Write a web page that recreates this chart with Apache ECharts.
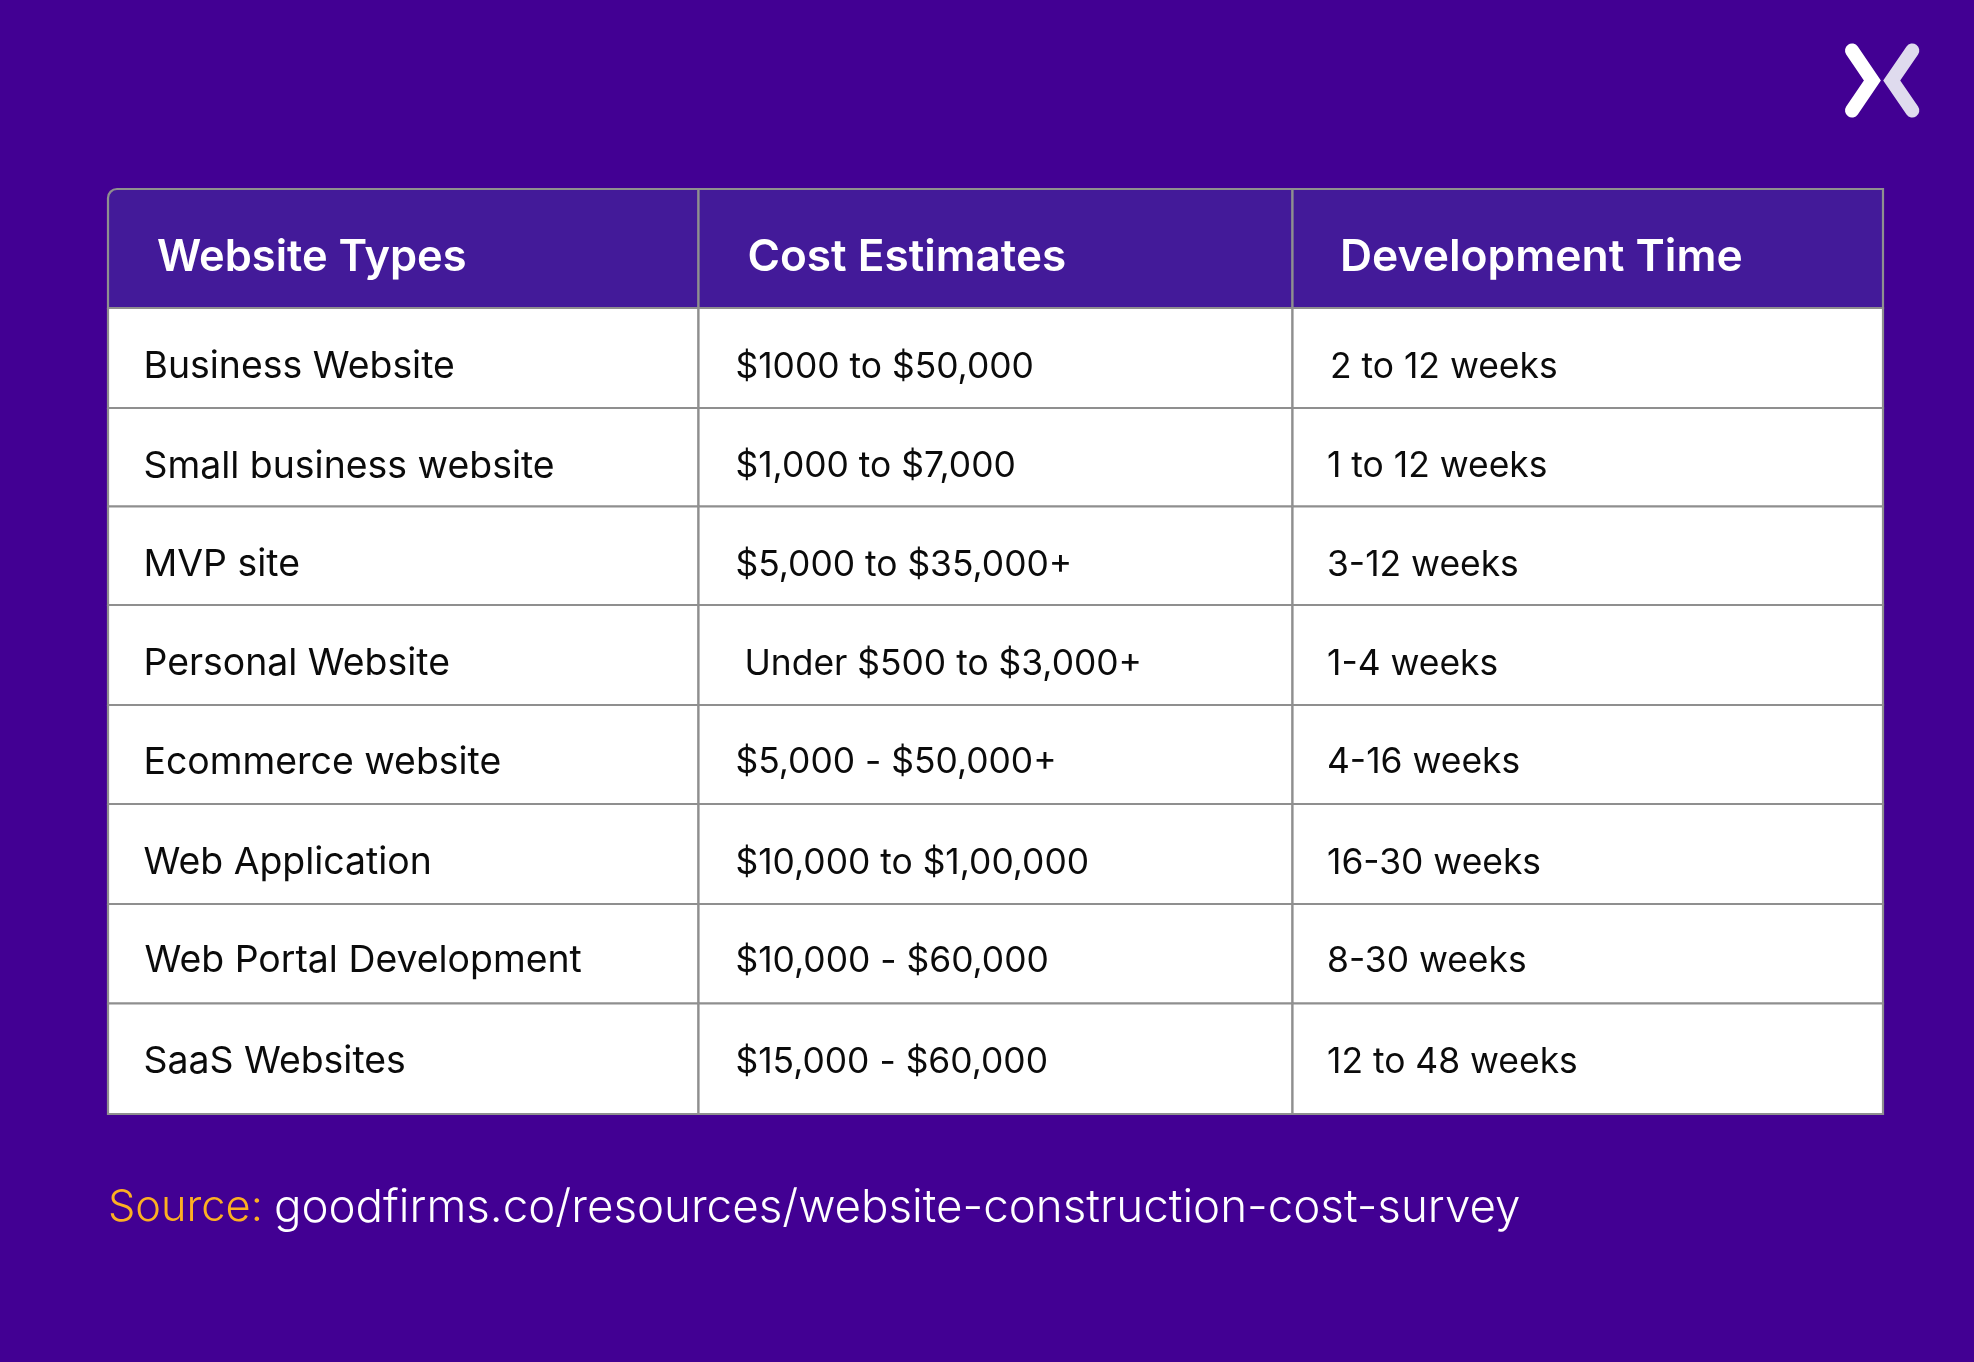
<!DOCTYPE html>
<html><head><meta charset="utf-8">
<style>html,body{margin:0;padding:0;background:#420093}#c{width:1974px;height:1362px}</style>
<script src="https://cdn.jsdelivr.net/npm/echarts@6/dist/echarts.min.js"></script>
</head><body><div id="c"></div>
<script>
// ---- content ----
const columns = ['Website Types', 'Cost Estimates', 'Development Time'];
const websiteTypes = ['Business Website','Small business website','MVP site','Personal Website','Ecommerce website','Web Application','Web Portal Development','SaaS Websites'];
const costEstimates = ['$1000 to $50,000','$1,000 to $7,000','$5,000 to $35,000+','Under $500 to $3,000+','$5,000 - $50,000+','$10,000 to $1,00,000','$10,000 - $60,000','$15,000 - $60,000'];
const developmentTimes = ['2 to 12 weeks','1 to 12 weeks','3-12 weeks','1-4 weeks','4-16 weeks','16-30 weeks','8-30 weeks','12 to 48 weeks'];
const sourceLabel = 'Source:';
const sourceUrl = 'goodfirms.co/resources/website-construction-cost-survey';

// ---- layout (not data) ----
const FONT = 'Inter';
const colEdges = [0,590.5,1184.5,1775];
const rowEdges = [0,119,219,317.5,416,516,615,715,814.5,925];   // row boundaries along the y axis
const textY    = [68.5,178,277.5,376,475,573.5,674,772,873];     // text centre per row
const bodyPad = [35.5, 37, 34.5], headPad = [49, 49, 47.5];
const bodySize = [37.4, 35.4, 35.4], headSize = [43.4, 44.1, 44.4];
const tweakX = {'Under $500 to $3,000+':9,'Web Portal Development':1,'2 to 12 weeks':3};
const LINE = '#8f8f8f';

const rows = [columns].concat(websiteTypes.map((t,i)=>[t,costEstimates[i],developmentTimes[i]]));
const cells = [];
rows.forEach((r,ri)=>r.forEach((txt,ci)=>cells.push([ci,ri,txt])));

function renderCell(params, api){
  const ci = api.value(0), ri = api.value(1);
  const txt = rows[ri][ci];
  const x0 = api.coord([colEdges[ci],0])[0], x1 = api.coord([colEdges[ci+1],0])[0];
  const y0 = api.coord([0,rowEdges[ri]])[1], y1 = api.coord([0,rowEdges[ri+1]])[1];
  const ty = api.coord([0,textY[ri]])[1];
  const head = ri===0;
  const tl = head && ci===0 ? 9 : 0;
  return {type:'group',children:[
    {type:'rect',shape:{x:x0,y:y0,width:x1-x0,height:y1-y0,r:[tl,0,0,0]},
     style:{fill:head?'#431a99':'#ffffff',stroke:LINE,lineWidth:2.2}},
    {type:'text',z2:5,style:{x:x0+(head?headPad:bodyPad)[ci]+(tweakX[txt]||0),y:ty,text:txt,
      fill:head?'#ffffff':'#0b0b0b',font:(head?'600 '+headSize[ci]+'px ':'400 '+bodySize[ci]+'px ')+FONT,
      textAlign:'left',textVerticalAlign:'middle'}}
  ]};
}

const chart = echarts.init(document.getElementById('c'),null,{renderer:'canvas'});
chart.setOption({
  backgroundColor:'#420093',
  animation:false,
  grid:{left:108,top:189,width:1775,height:925,containLabel:false},
  xAxis:{type:'value',min:0,max:1775,show:false,splitLine:{show:false}},
  yAxis:{type:'value',min:0,max:925,inverse:true,show:false,splitLine:{show:false}},
  title:{left:108,top:1185,padding:0,
    text:'{a|'+sourceLabel+'} {b|'+sourceUrl+'}',
    textStyle:{rich:{a:{fontFamily:FONT,fontSize:43.3,fontWeight:300,color:'#fdb022',padding:[0,6,0,0]},
                     b:{fontFamily:FONT,fontSize:45.7,fontWeight:300,color:'#ffffff'}}}},
  series:[{type:'custom',coordinateSystem:'cartesian2d',data:cells,renderItem:renderCell,
    encode:{x:0,y:1},silent:true,clip:false}],
  graphic:[
    {type:'polyline',shape:{points:[[1852,50.5],[1872.4,80.5],[1852,110.5]]},
     style:{stroke:'#ffffff',lineWidth:14,lineCap:'round',lineJoin:'miter',fill:null}},
    {type:'polyline',shape:{points:[[1912.3,50.5],[1891.7,80.5],[1912.3,110.5]]},
     style:{stroke:'#dfdbee',lineWidth:14,lineCap:'round',lineJoin:'miter',fill:null}}
  ]
});
</script></body></html>
